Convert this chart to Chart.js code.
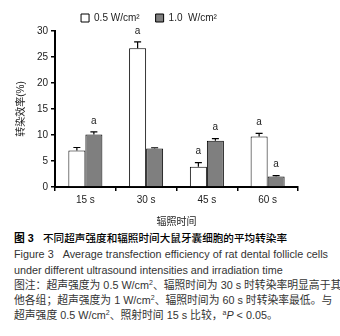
<!DOCTYPE html>
<html>
<head>
<meta charset="utf-8">
<script src="https://cdn.jsdelivr.net/npm/chart.js@4.4.1/dist/chart.umd.min.js"></script>
<style>
body { margin: 0; background: #fff; width: 340px; height: 336px; overflow: hidden; position: relative; }
#wrap { position: absolute; left: 0; top: 0; width: 340px; height: 228px; }
.cap { position: absolute; left: 14px; height: 16px; line-height: 16px; font-family: "Liberation Sans", "Noto Sans CJK SC", sans-serif; font-size: 10.8px; color: #333; white-space: nowrap; }
.just { text-align: justify; text-align-last: justify; }
.cap sup { font-size: 7px; line-height: 0; vertical-align: 4px; }
</style>
</head>
<body>
<div id="wrap"><canvas id="transChart"></canvas></div>
<div class="cap" style="top:230px;color:#000;font-weight:bold;">图 3</div>
<div class="cap just" style="top:230px;left:43px;width:244px;color:#000;font-size:10.6px;font-weight:500;">不同超声强度和辐照时间大鼠牙囊细胞的平均转染率</div>
<div class="cap just" style="top:246px;width:314px">Figure 3&nbsp;&nbsp; Average transfection efficiency of rat dental follicle cells</div>
<div class="cap" style="top:262px">under different ultrasound intensities and irradiation time</div>
<div class="cap just" style="top:277px;width:316px">图注：超声强度为 0.5 W/cm<sup>2</sup>、辐照时间为 30 s 时转染率明显高于其</div>
<div class="cap just" style="top:292px;width:318px">他各组；超声强度为 1 W/cm<sup>2</sup>、辐照时间为 60 s 时转染率最低。与</div>
<div class="cap" style="top:307px">超声强度 0.5 W/cm<sup>2</sup>、照射时间 15 s 比较，<sup>a</sup><i>P</i> &lt; 0.05。</div>
<script>
var categories = ["15 s", "30 s", "45 s", "60 s"];
var seriesNames = ["0.5 W/cm²", "1.0  W/cm²"];
var lowPower = [7.0, 26.7, 3.9, 9.7];
var lowPowerErr = [0.6, 1.2, 0.8, 0.6];
var highPower = [10.1, 7.4, 8.9, 2.0];
var highPowerErr = [0.5, 0.15, 0.4, 0.2];
var lowPowerMark = ["", "a", "a", "a"];
var highPowerMark = ["a", "", "a", "a"];
var yTicks = [0, 5, 10, 15, 20, 25, 30];

var errors = [lowPowerErr, highPowerErr];
var marks = [lowPowerMark, highPowerMark];

Chart.defaults.font.family = '"Liberation Sans", "Noto Sans CJK SC", sans-serif';
Chart.defaults.font.size = 10;
Chart.defaults.color = "#222";

// error bars (upper whisker only) and the "a" marks
var errorBars = {
    id: "errorBars",
    beforeLayout: function(chart) {
        var lg = chart.legend;
        if (lg && !lg._trimmed) {
            var origFit = lg.fit;
            lg.fit = function() { origFit.call(this); this.height -= 2; };
            lg._trimmed = true;
        }
    },
    afterDatasetsDraw: function(chart) {
        var ctx = chart.ctx;
        var yScale = chart.scales.y;
        chart.data.datasets.forEach(function(ds, di) {
            var meta = chart.getDatasetMeta(di);
            meta.data.forEach(function(bar, i) {
                var top = yScale.getPixelForValue(ds.data[i] + errors[di][i]);
                ctx.save();
                ctx.strokeStyle = "#000";
                ctx.lineWidth = 1.2;
                ctx.beginPath();
                ctx.moveTo(bar.x, bar.y);
                ctx.lineTo(bar.x, top);
                ctx.moveTo(bar.x - 3.5, top);
                ctx.lineTo(bar.x + 3.5, top);
                ctx.stroke();
                if (marks[di][i]) {
                    ctx.fillStyle = "#222";
                    ctx.font = '10px "Liberation Sans", sans-serif';
                    ctx.textAlign = "center";
                    ctx.textBaseline = "middle";
                    ctx.fillText(marks[di][i], bar.x, top - 11);
                }
                ctx.restore();
            });
        });
    }
};

var ctx = document.getElementById("transChart").getContext("2d");
var chartInstance = new Chart(ctx, {
    type: "bar",
    data: {
        labels: categories,
        datasets: [
            {
                label: seriesNames[0],
                data: lowPower,
                backgroundColor: "#ffffff",
                borderColor: "#000000",
                borderWidth: 1,
                categoryPercentage: 0.56,
                barPercentage: 1.0
            },
            {
                label: seriesNames[1],
                data: highPower,
                backgroundColor: "#7f7f7f",
                borderColor: "#000000",
                borderWidth: 1,
                categoryPercentage: 0.56,
                barPercentage: 1.0
            }
        ]
    },
    options: {
        responsive: true,
        maintainAspectRatio: false,
        animation: false,
        layout: {
            padding: { top: -3, right: 42, left: 0, bottom: 0 }
        },
        plugins: {
            legend: {
                position: "top",
                labels: {
                    boxWidth: 8,
                    boxHeight: 8,
                    padding: 16,
                    color: "#222",
                    font: { size: 10 }
                }
            },
            tooltip: { enabled: false }
        },
        scales: {
            x: {
                afterFit: function(s) { s.height = 41; },
                grid: { drawOnChartArea: false, drawTicks: true, tickLength: 4, color: "#000", lineWidth: 1.5 },
                border: { display: true, color: "#000", width: 2 },
                ticks: { padding: 3, color: "#222" },
                title: { display: true, text: "辐照时间", color: "#222", font: { size: 10 }, padding: { top: 2, bottom: 0 } }
            },
            y: {
                min: 0,
                max: 30,
                afterFit: function(s) { s.width = 55; },
                afterBuildTicks: function(s) { s.ticks = yTicks.map(function(v) { return { value: v }; }); },
                grid: { drawOnChartArea: false, drawTicks: true, tickLength: 4, color: "#000", lineWidth: 1.5 },
                border: { display: true, color: "#000", width: 2 },
                ticks: { padding: 3, color: "#222" },
                title: { display: true, text: "转染效率(%)", color: "#222", font: { size: 10 }, padding: { top: 15, bottom: 0 } }
            }
        }
    },
    plugins: [errorBars]
});
</script>
</body>
</html>
